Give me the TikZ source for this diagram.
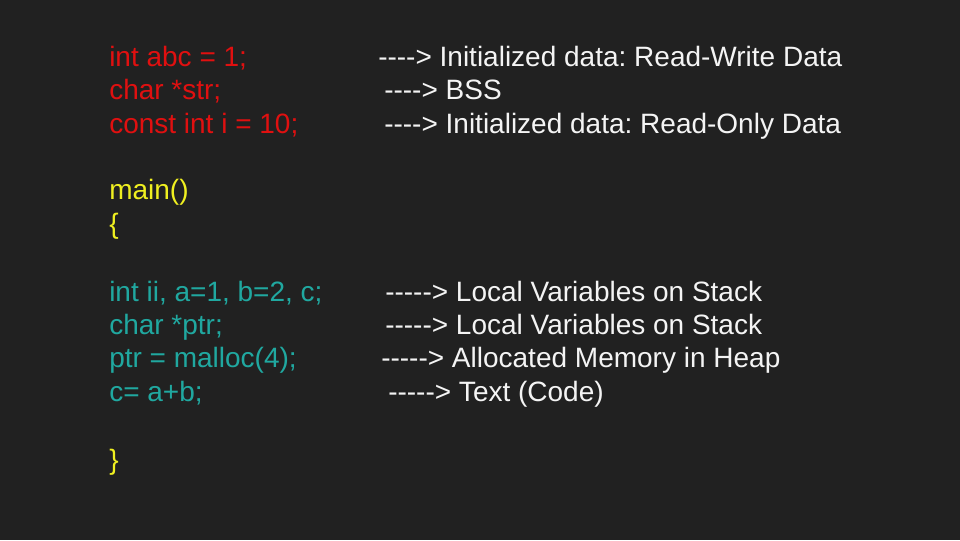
\documentclass[tikz,border=0pt]{standalone}
\usepackage{fontspec}
\setmainfont{Liberation Sans}[Ligatures=TeXOff]
\usetikzlibrary{positioning}
\definecolor{slidebg}{HTML}{212121}
\definecolor{datared}{HTML}{E01010}
\definecolor{mainyellow}{HTML}{F0F020}
\definecolor{bodyteal}{HTML}{20A8A0}
\definecolor{notewhite}{HTML}{F4F4F4}
\tikzset{
  codeline/.style={anchor=base west, inner sep=0pt, font=\fontsize{21}{24}\selectfont\frenchspacing},
  noteline/.style={codeline, text=notewhite}
}
\begin{document}
\begin{tikzpicture}[x=0.75pt,y=-0.75pt]
  % Set the slide background
  \fill[slidebg] (0,0) rectangle (960,540);
  \useasboundingbox (0,0) rectangle (960,540);

  % Global declarations
  \node[codeline, text=datared] (glob1) at (109,66) {int abc = 1;};
  \node[codeline, text=datared] (glob2) at (109,99) {char *str;};
  \node[codeline, text=datared] (glob3) at (109,133) {const int i = 10;};

  % Notes on the globals
  \node[noteline] (note1) at (378,66) {{-}{-}{-}{-}> Initialized data: Read-Write Data};
  \node[noteline] (note2) at (384,99) {{-}{-}{-}{-}> BSS};
  \node[noteline] (note3) at (384,133) {{-}{-}{-}{-}> Initialized data: Read-Only Data};

  % Function head
  \node[codeline, text=mainyellow] (head) at (109,199) {main()};
  \node[codeline, text=mainyellow] (open) at (109,233) {\{};

  % Function body
  \node[codeline, text=bodyteal] (body1) at (109,301) {int ii, a=1, b=2, c;};
  \node[codeline, text=bodyteal] (body2) at (109,334) {char *ptr;};
  \node[codeline, text=bodyteal] (body3) at (109,367) {ptr = malloc(4);};
  \node[codeline, text=bodyteal] (body4) at (109,401) {c= a+b;};

  % Notes on the body
  \node[noteline] (note4) at (385,301) {{-}{-}{-}{-}{-}> Local Variables on Stack};
  \node[noteline] (note5) at (385,334) {{-}{-}{-}{-}{-}> Local Variables on Stack};
  \node[noteline] (note6) at (381,367) {{-}{-}{-}{-}{-}> Allocated Memory in Heap};
  \node[noteline] (note7) at (388,401) {{-}{-}{-}{-}{-}> Text (Code)};

  \node[codeline, text=mainyellow] (close) at (109,469) {\}};
\end{tikzpicture}
\end{document}
